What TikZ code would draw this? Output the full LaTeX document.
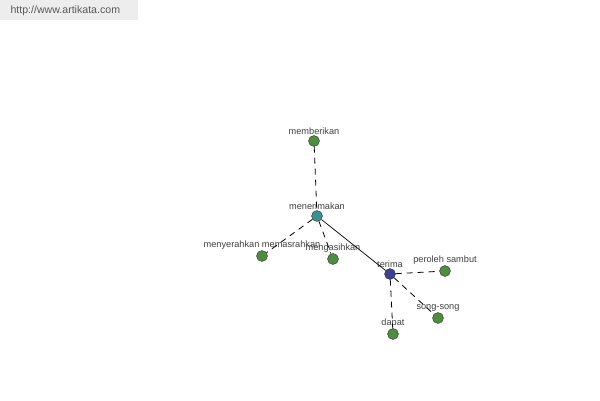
\documentclass[tikz,border=0pt]{standalone}
\usepackage{fontspec}
\setmainfont{Liberation Sans}
\definecolor{daun}{HTML}{4E8C42}
\definecolor{pusat}{HTML}{3E8E92}
\definecolor{akar}{HTML}{3C428E}
\tikzset{
  kata/.style={circle,draw=black!80,fill=daun,inner sep=0pt,minimum size=11pt},
  lbl/.style={label={[font=\fontsize{9.2}{10}\selectfont,text=black!75,inner sep=1pt]above:#1}},
  putus/.style={dash pattern=on 6pt off 5pt,black,line width=0.8pt}
}
\begin{document}
\begin{tikzpicture}[x=1pt,y=-1pt]
  \useasboundingbox (0,0) rectangle (600,400);
  % tanda air
  \fill[black!7] (0,0) rectangle (138,20);
  \node[anchor=west,font=\fontsize{10.6}{12}\selectfont,text=black!65] (web) at (7,11) {http://www.artikata.com};
  % simpul
  \node[kata,lbl=memberikan] (memberikan) at (314,141) {};
  \node[kata,fill=pusat,lbl=menerimakan] (menerimakan) at (317,216) {};
  \node[kata,lbl=menyerahkan memasrahkan] (menyerahkan) at (262,256) {};
  \node[kata,lbl=mengasihkan] (mengasihkan) at (333,259) {};
  \node[kata,fill=akar,lbl=terima] (terima) at (390,274) {};
  \node[kata,lbl=peroleh sambut] (peroleh) at (445,271) {};
  \node[kata,lbl=song-song] (song) at (438,318) {};
  \node[kata,lbl=dapat] (dapat) at (393,334) {};
  % garis
  \draw[putus] (memberikan) -- (menerimakan);
  \draw[putus] (menerimakan) -- (menyerahkan);
  \draw[putus] (menerimakan) -- (mengasihkan);
  \draw[line width=0.7pt] (menerimakan) -- (terima);
  \draw[putus] (terima) -- (peroleh);
  \draw[putus] (terima) -- (song);
  \draw[putus] (terima) -- (dapat);
\end{tikzpicture}
\end{document}
